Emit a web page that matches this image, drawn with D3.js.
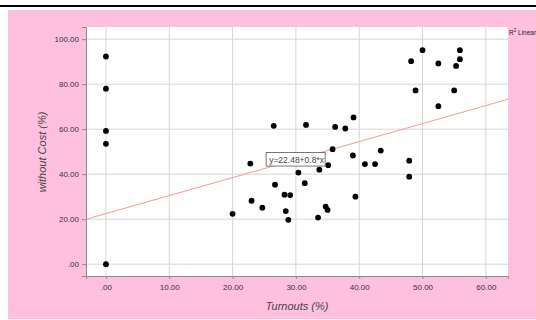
<!DOCTYPE html>
<html lang="en">
<head>
<meta charset="UTF-8">
<script src="https://cdnjs.cloudflare.com/ajax/libs/d3/7.8.5/d3.min.js"></script>
<style>
  body { margin: 0; background: #fff; font-family: "Liberation Sans", Arial, sans-serif; }
</style>
</head>
<body>
<div id="content"></div>
<script>
// turnout (%) per case
const turnouts = [0, 0, 0, 0, 0,
  20.0, 22.8, 23.0, 24.7, 26.5, 26.7, 28.2, 29.1, 28.4, 28.8,
  30.4, 31.4, 31.6, 33.5, 33.7, 34.7, 35.0, 35.1, 35.8, 36.2,
  37.8, 39.0, 39.1, 39.4, 40.9, 42.5, 43.4, 47.9, 47.9, 48.2,
  48.9, 50.0, 52.5, 52.5, 55.0, 55.3, 55.9, 55.9];
// without cost (%) per case
const withoutCost = [92.3, 78.0, 59.2, 53.5, 0,
  22.4, 44.7, 28.2, 25.1, 61.5, 35.3, 30.9, 30.7, 23.6, 19.7,
  40.7, 36.0, 61.9, 20.7, 42.0, 25.6, 24.1, 44.0, 51.1, 61.0,
  60.3, 48.3, 65.2, 30.0, 44.5, 44.5, 50.5, 46.0, 38.9, 90.2,
  77.2, 95.1, 89.2, 70.2, 77.2, 88.1, 91.1, 95.1];
const xTicks = [0, 10, 20, 30, 40, 50, 60];
const yTicks = [0, 20, 40, 60, 80, 100];
const fitA = 22.48, fitB = 0.8;
const fitLabel = "y=22.48+0.8*x";

const width = 536, height = 320;
const plot = { left: 86, top: 27, right: 508, bottom: 276 };

const svg = d3.select("#content").append("svg")
  .attr("width", width).attr("height", height);

// frame: black rule on top, pink panel
svg.append("rect").attr("x", 0).attr("y", 5).attr("width", width).attr("height", 2).attr("fill", "#000");
svg.append("rect").attr("x", 8).attr("y", 10).attr("width", width - 8).attr("height", 309).attr("fill", "#ffc0df");

const xScale = d3.scaleLinear().domain([-3.15, 63.5]).range([plot.left, plot.right]);
const yScale = d3.scaleLinear().domain([-5.25, 105.4]).range([plot.bottom, plot.top]);

svg.append("rect")
  .attr("x", plot.left).attr("y", plot.top)
  .attr("width", plot.right - plot.left).attr("height", plot.bottom - plot.top)
  .attr("fill", "#fff");

// grid
svg.append("g").selectAll("line").data(xTicks).join("line")
  .attr("x1", d => xScale(d)).attr("x2", d => xScale(d))
  .attr("y1", plot.top).attr("y2", plot.bottom)
  .attr("stroke", "#d6d6d6").attr("stroke-width", 1);
svg.append("g").selectAll("line").data(yTicks).join("line")
  .attr("x1", plot.left).attr("x2", plot.right)
  .attr("y1", d => yScale(d)).attr("y2", d => yScale(d))
  .attr("stroke", "#d6d6d6").attr("stroke-width", 1);

//-Axis
const xAxis = d3.axisBottom(xScale).tickValues(xTicks).tickSize(3).tickPadding(5)
  .tickFormat(d => d === 0 ? ".00" : d.toFixed(2));
const gx = svg.append("g").attr("transform", `translate(0,${plot.bottom})`).call(xAxis);
const yAxis = d3.axisLeft(yScale).tickValues(yTicks).tickSize(4).tickPadding(3)
  .tickFormat(d => d === 0 ? ".00" : d.toFixed(2));
const gy = svg.append("g").attr("transform", `translate(${plot.left},0)`).call(yAxis);
[gx, gy].forEach(g => {
  g.select(".domain").attr("stroke", "#8a8a8a");
  g.selectAll(".tick line").attr("stroke", "#8a8a8a");
  g.selectAll(".tick text").attr("fill", "#333").style("font-size", "8px")
    .style("font-family", "Liberation Sans, Arial, sans-serif");
});

// clip for fit line
svg.append("clipPath").attr("id", "clip").append("rect")
  .attr("x", plot.left).attr("y", plot.top)
  .attr("width", plot.right - plot.left).attr("height", plot.bottom - plot.top);

const [x0, x1] = xScale.domain();
svg.append("line")
  .attr("clip-path", "url(#clip)")
  .attr("x1", xScale(x0)).attr("y1", yScale(fitA + fitB * x0))
  .attr("x2", xScale(x1)).attr("y2", yScale(fitA + fitB * x1))
  .attr("stroke", "#f59a9a").attr("stroke-width", 1);

//-Dots
svg.append("g").selectAll("circle").data(turnouts).join("circle")
  .attr("cx", d => xScale(d))
  .attr("cy", (d, i) => yScale(withoutCost[i]))
  .attr("r", 2.9)
  .attr("fill", "#000");

//-Fit label
const lbl = svg.append("g").attr("transform", `translate(${xScale(25.3)},${yScale(49.6)})`);
lbl.append("rect").attr("x", 0).attr("y", 0).attr("width", 59).attr("height", 13.5)
  .attr("fill", "#fff").attr("stroke", "#555").attr("stroke-width", 0.8);
lbl.append("text").attr("x", 3).attr("y", 10).text(fitLabel)
  .attr("fill", "#444").style("font-size", "8.5px");

//-R2 legend
const r2 = svg.append("text").attr("x", 509).attr("y", 35).attr("fill", "#222").style("font-size", "6.5px");
r2.append("tspan").text("R");
r2.append("tspan").text("2").attr("dy", -3).style("font-size", "4.5px");
r2.append("tspan").text(" Linear").attr("dy", 3);

//-Titles
svg.append("text").text("Turnouts (%)")
  .attr("x", 297).attr("y", 310).attr("text-anchor", "middle")
  .attr("fill", "#444").style("font-size", "11px").style("font-style", "italic");
svg.append("text").text("without Cost (%)")
  .attr("transform", `translate(46,152) rotate(-90)`).attr("text-anchor", "middle")
  .attr("fill", "#444").style("font-size", "11px").style("font-style", "italic");
</script>
</body>
</html>
